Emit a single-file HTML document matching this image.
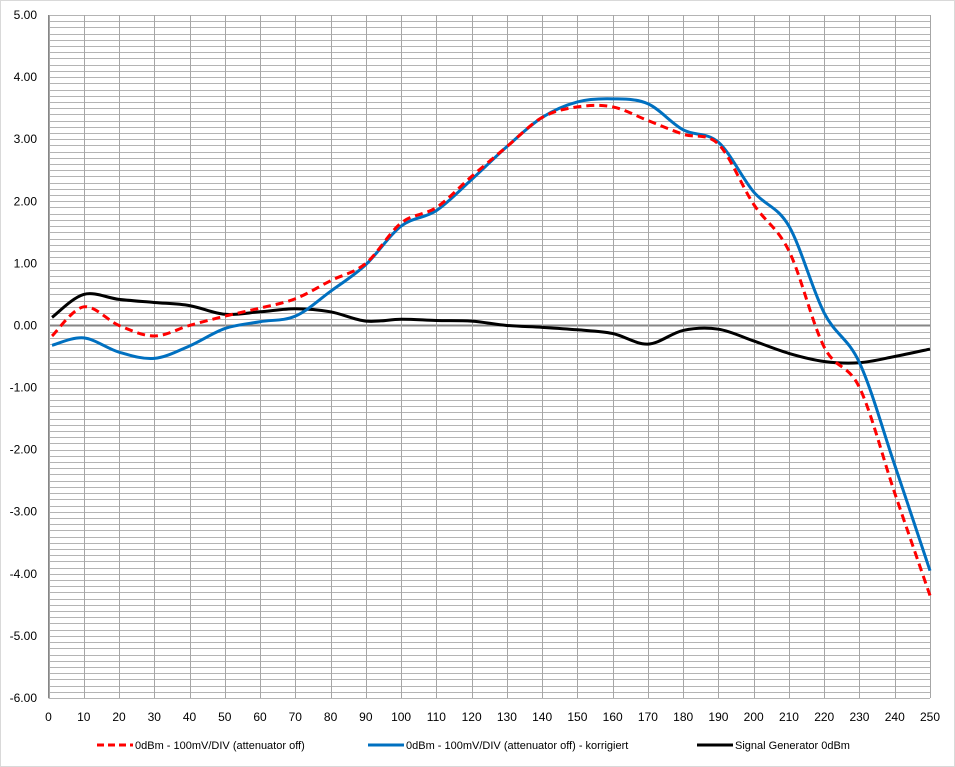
<!DOCTYPE html>
<html><head><meta charset="utf-8"><style>
body{margin:0;background:#fff;font-family:"Liberation Sans",sans-serif}
svg{display:block}
</style></head><body>
<svg id="c" width="955" height="767" xmlns="http://www.w3.org/2000/svg"></svg>
<script>
const xs=[1,10,20,30,40,50,60,70,80,90,100,110,120,130,140,150,160,170,180,190,200,210,220,230,240,250];
const redVals=[-0.17,0.3,0.0,-0.17,0.0,0.15,0.28,0.43,0.72,1.0,1.65,1.9,2.4,2.88,3.35,3.52,3.52,3.3,3.08,2.92,1.95,1.2,-0.35,-1.0,-2.7,-4.35];
const blueVals=[-0.32,-0.2,-0.43,-0.53,-0.33,-0.05,0.06,0.15,0.55,0.98,1.6,1.85,2.35,2.88,3.35,3.6,3.65,3.57,3.15,2.95,2.15,1.6,0.2,-0.6,-2.25,-3.95];
const blackVals=[0.13,0.5,0.42,0.37,0.32,0.18,0.22,0.27,0.22,0.07,0.1,0.08,0.07,0.0,-0.03,-0.07,-0.13,-0.3,-0.08,-0.06,-0.25,-0.45,-0.58,-0.6,-0.5,-0.38];
const xTicks=[0,10,20,30,40,50,60,70,80,90,100,110,120,130,140,150,160,170,180,190,200,210,220,230,240,250];
const yTicks=[5,4,3,2,1,0,-1,-2,-3,-4,-5,-6];
const legendLabels=["0dBm - 100mV/DIV (attenuator off)","0dBm - 100mV/DIV (attenuator off) - korrigiert","Signal Generator 0dBm"];

const svg=document.getElementById('c');const NS="http://www.w3.org/2000/svg";
const X0=48.5,X1=930,Y0=15,Y1=698;
const sx=v=>X0+(v-0)/(250-0)*(X1-X0);
const sy=v=>Y0+(5-v)/(5-(-6))*(Y1-Y0);
function mk(t,a,p){const e=document.createElementNS(NS,t);for(const k in a)e.setAttribute(k,a[k]);(p||svg).appendChild(e);return e;}
const border=mk('rect',{x:0.5,y:0.5,width:954,height:766,fill:'#fff',stroke:'#d9d9d9'});


const grid=mk('g',{});


for(let i=-60;i<=50;i++){const v=i/10;const y=Math.round(sy(v))+0.5;
 mk('line',{x1:X0,x2:X1,y1:y,y2:y,stroke:i==0?'#868686':'#b4b4b4','stroke-width':i==0?2:1},grid);}
for(const t of xTicks){const x=Math.round(sx(t))+0.5;mk('line',{x1:x,x2:x,y1:Y0,y2:Y1,stroke:'#a6a6a6'},grid);}
mk('line',{x1:X0,x2:X0,y1:Y0,y2:Y1,stroke:'#868686'},grid);
const yl=mk('g',{'font-size':12,fill:'#000','text-anchor':'end'});


for(const t of yTicks){const e=mk('text',{x:37,y:sy(t)+4},yl);e.textContent=t.toFixed(2);}
const xl=mk('g',{'font-size':12,fill:'#000','text-anchor':'middle'});


for(const t of xTicks){const e=mk('text',{x:sx(t),y:721},xl);e.textContent=t;}
function path(vals){const p=xs.map((x,i)=>[sx(x),sy(vals[i])]);let d=`M${p[0][0]},${p[0][1]}`;
 for(let i=0;i<p.length-1;i++){const a=p[Math.max(0,i-1)],b=p[i],c=p[i+1],e=p[Math.min(p.length-1,i+2)];
 d+=` C${b[0]+(c[0]-a[0])/6},${b[1]+(c[1]-a[1])/6} ${c[0]-(e[0]-b[0])/6},${c[1]-(e[1]-b[1])/6} ${c[0]},${c[1]}`;}return d;}
const s3=mk('path',{d:path(blackVals),fill:'none',stroke:'#000','stroke-width':3});


const s2=mk('path',{d:path(blueVals),fill:'none',stroke:'#0070c0','stroke-width':3});


const s1=mk('path',{d:path(redVals),fill:'none',stroke:'#ff0000','stroke-width':3,'stroke-dasharray':'8,5'});


const leg=mk('g',{'font-size':11,fill:'#000'});


const lx=[97,368,697],cols=['#ff0000','#0070c0','#000'];
legendLabels.forEach((t,i)=>{const g=mk('g',{},leg);
 
 
 mk('line',{x1:lx[i],x2:lx[i]+36,y1:745,y2:745,stroke:cols[i],'stroke-width':3,'stroke-dasharray':i==0?'7,4':'none'},g);
 const e=mk('text',{x:lx[i]+38,y:749},g);e.textContent=t;});
</script>
</body></html>
